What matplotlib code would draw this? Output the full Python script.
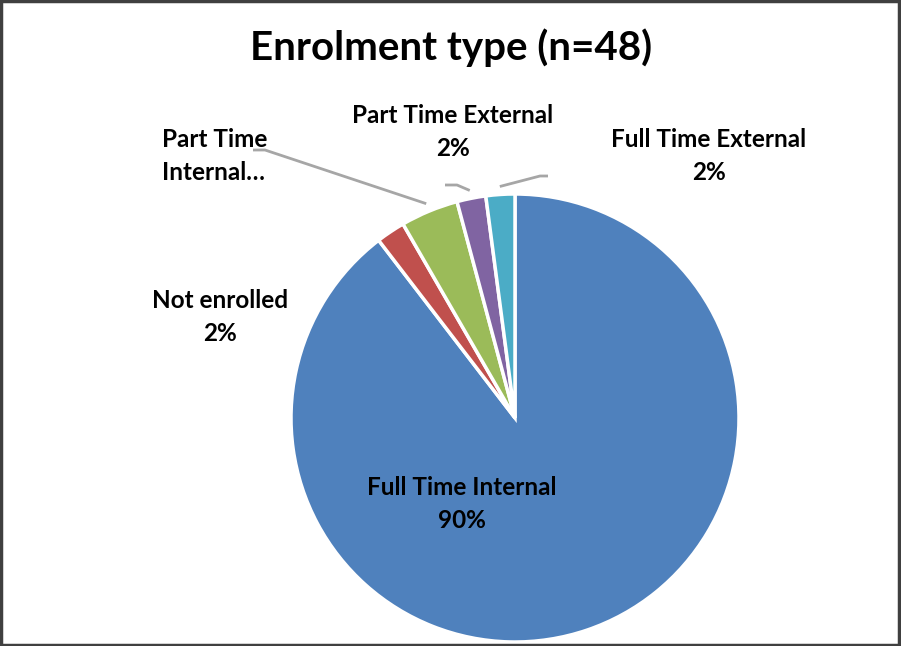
import numpy as np
import matplotlib.pyplot as plt
from matplotlib.patches import Rectangle

plt.rcParams['font.family'] = ['Lato', 'DejaVu Sans']

categories = ['Full Time Internal', 'Not enrolled', 'Part Time Internal',
              'Part Time External', 'Full Time External']
counts = [43, 1, 2, 1, 1]
colors = ['#4F81BD', '#C0504D', '#9BBB59', '#8064A2', '#4BACC6']
title = 'Enrolment type (n=48)'

W, H = 901, 646
fig = plt.figure(figsize=(W / 100, H / 100), dpi=100)
ax = fig.add_axes([0, 0, 1, 1])

cx, cy, r = 515, H - 418, 224
wedges, _ = ax.pie(counts, colors=colors, startangle=90, counterclock=False,
                   center=(cx, cy), radius=r, frame=True,
                   wedgeprops=dict(edgecolor='white', linewidth=2.5))
ax.set_xlim(0, W)
ax.set_ylim(0, H)
ax.set_aspect('auto')
ax.axis('off')

total = sum(counts)
pct = [f'{round(100 * c / total):.0f}%' for c in counts]

# label text positions (pixel coords, y from top)
label_pos = {
    'Full Time Internal': (462, 504, 'center'),
    'Not enrolled': (220, 317, 'center'),
    'Part Time Internal': (162, 156, 'left'),
    'Part Time External': (453, 132, 'center'),
    'Full Time External': (709, 156, 'center'),
}
for name, p in zip(categories, pct):
    x, y, ha = label_pos[name]
    if name == 'Part Time Internal':
        txt = 'Part Time\nInternal…'
    else:
        txt = f'{name}\n{p}'
    ax.text(x, H - y, txt, ha=ha, va='center', fontsize=17.5, fontweight='bold',
            linespacing=1.5, multialignment=ha)

# leader lines: label-side elbow points, wedge end computed from wedge angle
leaders = {
    'Part Time Internal': [(253, 150), (265, 150)],
    'Part Time External': [(445, 185), (457, 185)],
    'Full Time External': [(548, 176), (540, 176)],
}
for w, name in zip(wedges, categories):
    if name not in leaders:
        continue
    ang = np.deg2rad((w.theta1 + w.theta2) / 2)
    ex = cx + (r + 8) * np.cos(ang)
    ey = cy + (r + 8) * np.sin(ang)
    pts = [(x, H - y) for x, y in leaders[name]] + [(ex, ey)]
    xs, ys = zip(*pts)
    ax.plot(xs, ys, color='#A6A6A6', lw=2, solid_capstyle='butt')

fig.text(451 / W, 1 - 48 / H, title, ha='center', va='center',
         fontsize=29, fontweight='bold')

fig.patches.append(Rectangle((0.001, 0.002), 0.997, 0.996, transform=fig.transFigure,
                             fill=False, edgecolor='#404040', linewidth=2.5))

fig.savefig('out.png', dpi=100, facecolor='white')
